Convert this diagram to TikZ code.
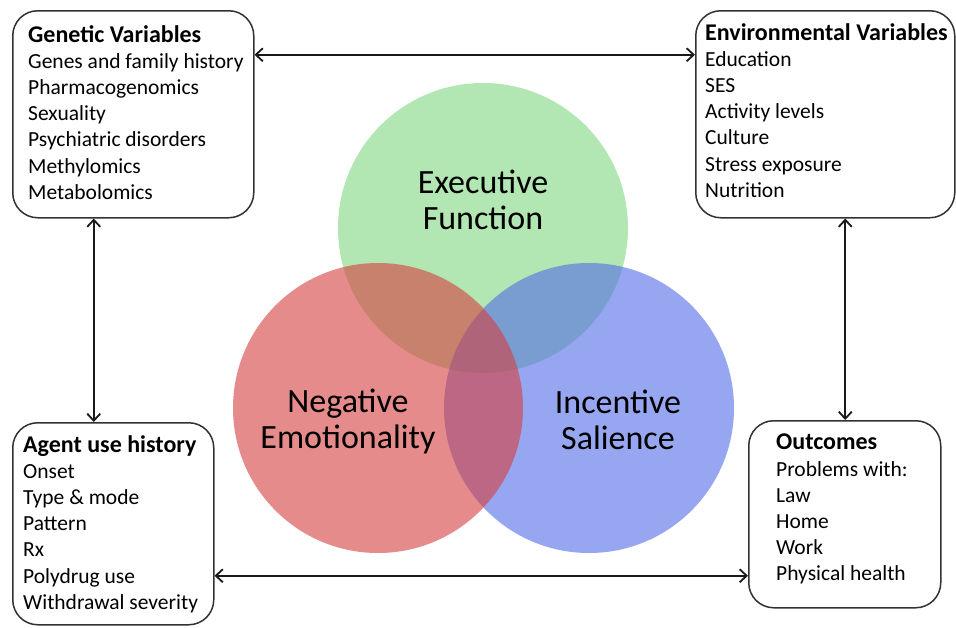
\documentclass[tikz,border=0pt]{standalone}
\usepackage{fontspec}
\setmainfont{Carlito}
\usetikzlibrary{arrows.meta}
\definecolor{cg}{RGB}{178,230,178}
\definecolor{cr}{RGB}{213,63,63}
\definecolor{cb}{RGB}{83,107,230}
\definecolor{edge}{RGB}{50,50,50}
\newcommand{\hd}[1]{\textbf{\fontsize{24}{26.2}\selectfont #1}}
\begin{document}
\begin{tikzpicture}[x=1pt,y=-1pt,
  box/.style={draw=edge, line width=1.5pt, rounded corners=25pt, fill=white, inner sep=0pt},
  txt/.style={anchor=north west, align=left, inner sep=0pt, font=\fontsize{21.5}{26.2}\selectfont},
  circ/.style={circle, inner sep=0pt, minimum size=290pt},
  lab/.style={align=center, inner sep=0pt, font=\fontsize{34}{36}\selectfont},
  conn/.style={draw=black!90, line width=1.8pt, {Straight Barb[length=7pt,width=13pt]}-{Straight Barb[length=7pt,width=13pt]}}]
\useasboundingbox (0,0) rectangle (956,627);
\fill[white] (0,0) rectangle (956,627);
% circles
\node[circ, fill=cg] (ef) at (483,228) {};
\node[circ, fill=cb, fill opacity=0.6] (is) at (589,408) {};
\node[circ, fill=cr, fill opacity=0.6] (ne) at (378,408) {};
\node[lab] (eft) at (483,200) {Executive\\Function};
\node[lab] (net) at (348,421) {Negative\\Emotionality};
\node[lab] (ist) at (618,420) {Incentive\\Salience};
% boxes
\node[box, anchor=north west, minimum width=241pt, minimum height=207pt] (gen) at (12,10) {};
\node[box, anchor=north west, minimum width=259pt, minimum height=207pt] (env) at (695,10) {};
\node[box, anchor=north west, minimum width=201pt, minimum height=202pt] (agent) at (12,422) {};
\node[box, anchor=north west, minimum width=192pt, minimum height=187pt] (out) at (748,420) {};
% texts
\node[txt] (gent) at (28,25) {\hd{Genetic Variables}\\Genes and family history\\Pharmacogenomics\\Sexuality\\Psychiatric disorders\\Methylomics\\Metabolomics};
\node[txt] (envt) at (705,23) {\hd{Environmental Variables}\\Education\\SES\\Activity levels\\Culture\\Stress exposure\\Nutrition};
\node[txt] (agentt) at (23,435) {\hd{Agent use history}\\Onset\\Type \& mode\\Pattern\\Rx\\Polydrug use\\Withdrawal severity};
\node[txt] (outt) at (776,434) {\hd{Outcomes}\\Problems with:\\Law\\Home\\Work\\Physical health};
% connectors
\draw[conn] ([yshift=59.5pt]gen.east) -- ([yshift=59.5pt]env.west);
\draw[conn] ([yshift=-52pt]agent.east) -- ([yshift=-52pt]agent.east -| out.west);
\draw[conn] ([xshift=-39.5pt]gen.south) -- ([xshift=-39.5pt]gen.south |- agent.north);
\draw[conn] ([xshift=20pt]env.south) -- ([xshift=20pt]env.south |- out.north);
\end{tikzpicture}
\end{document}
